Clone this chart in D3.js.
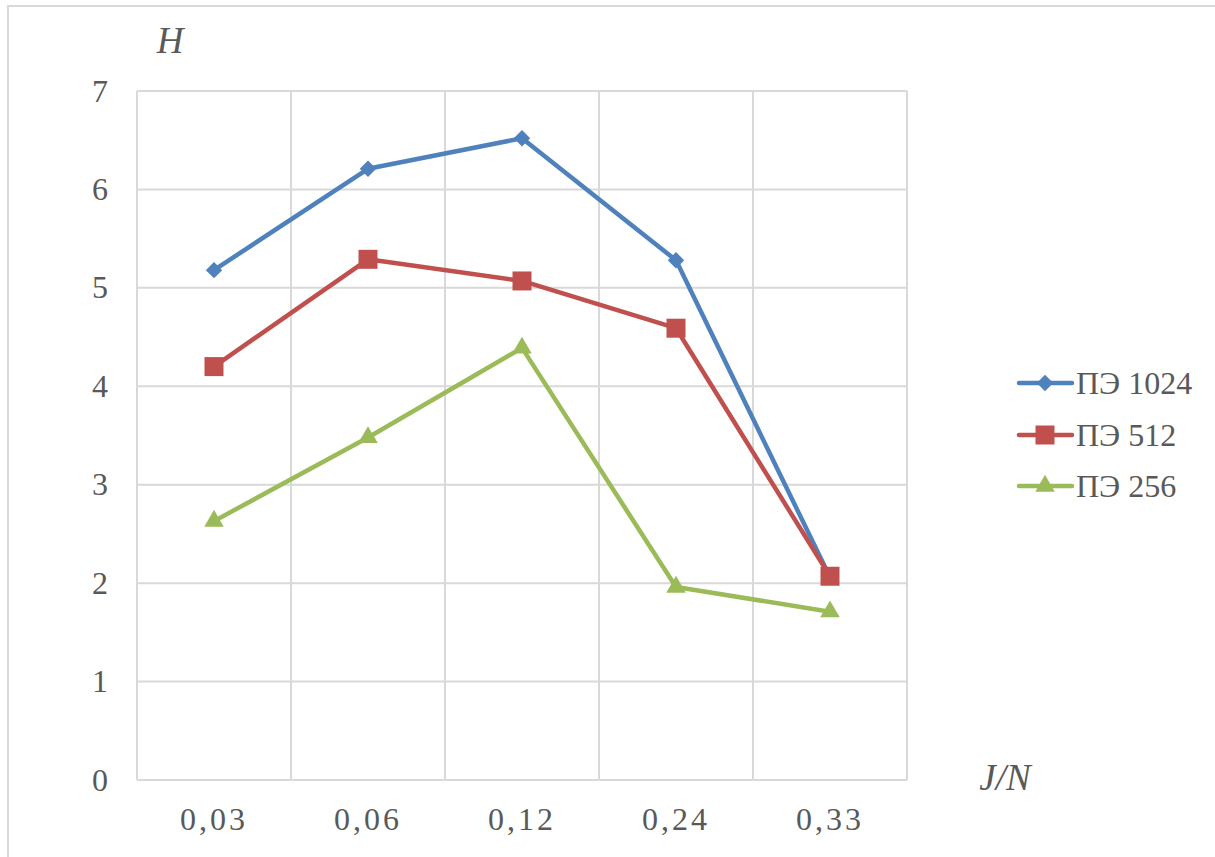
<!DOCTYPE html>
<html><head><meta charset="utf-8">
<script src="https://cdn.jsdelivr.net/npm/d3@7"></script>
<style>body{margin:0;background:#fff;}svg{display:block;}</style>
</head><body>
<svg id="c" width="1215" height="857"></svg>
<script>
const categories = ["0,03","0,06","0,12","0,24","0,33"];
const seriesNames = ["ПЭ 1024","ПЭ 512","ПЭ 256"];
const pe1024 = [5.18, 6.21, 6.52, 5.28, 2.06];
const pe512 = [4.20, 5.29, 5.07, 4.59, 2.07];
const pe256 = [2.63, 3.48, 4.39, 1.96, 1.71];
const yTicks = [0,1,2,3,4,5,6,7];
const colors = ["#4F81BD","#C0504D","#9BBB59"];
const seriesData = [pe1024, pe512, pe256];

const markers = [
  g => g.append("path").attr("d", d3.symbol().type(d3.symbolSquare).size(135)).attr("transform","rotate(45)"),
  g => g.append("path").attr("d", d3.symbol().type(d3.symbolSquare).size(361)),
  g => g.append("path").attr("d", d3.symbol().type(d3.symbolTriangle).size(165))
];

const svg = d3.select("#c");
const textCol = "#595959";
const FONT = '"Liberation Serif","Times New Roman",serif';

svg.append("rect").attr("x",8).attr("y",6).attr("width",1230).attr("height",880)
  .attr("fill","none").attr("stroke","#d9d9d9").attr("stroke-width",2);

const L=137,R=907,T=91,B=780;
const x = d3.scaleBand().domain(categories).range([L,R]).padding(0);
const y = d3.scaleLinear().domain([0,7]).range([B,T]);

svg.append("g").selectAll("line").data(yTicks).join("line")
  .attr("x1",L).attr("x2",R).attr("y1",d=>y(d)).attr("y2",d=>y(d))
  .attr("stroke","#d9d9d9").attr("stroke-width",2);
const edges = categories.map(c=>x(c)).concat([R]);
svg.append("g").selectAll("line").data(edges).join("line")
  .attr("x1",d=>d).attr("x2",d=>d).attr("y1",T).attr("y2",B)
  .attr("stroke","#d9d9d9").attr("stroke-width",2);

svg.append("g").selectAll("text").data(yTicks).join("text")
  .attr("x",108).attr("y",d=>y(d)).attr("dy","0.33em").attr("text-anchor","end")
  .style("font-family",FONT).attr("font-size",32).attr("fill",textCol).text(d=>d);
svg.append("g").selectAll("text").data(categories).join("text")
  .attr("x",d=>x(d)+x.bandwidth()/2).attr("y",830).attr("text-anchor","middle")
  .style("font-family",FONT).attr("font-size",32).attr("letter-spacing",3).attr("fill",textCol).text(d=>d);

svg.append("text").attr("x",170).attr("y",53).attr("text-anchor","middle")
  .style("font-family",FONT).attr("font-style","italic").attr("font-size",37).attr("fill",textCol).text("H");
svg.append("text").attr("x",1005).attr("y",790).attr("text-anchor","middle")
  .style("font-family",FONT).attr("font-style","italic").attr("font-size",37).attr("fill",textCol).text("J/N");

const line = d3.line().x((d,i)=>x(categories[i])+x.bandwidth()/2).y(d=>y(d));

seriesData.forEach((vals,s)=>{
  const g = svg.append("g");
  g.append("path").datum(vals).attr("d",line).attr("fill","none")
    .attr("stroke",colors[s]).attr("stroke-width",4.5).attr("stroke-linejoin","round");
  vals.forEach((d,i)=>{
    const m = g.append("g").attr("fill",colors[s])
      .attr("transform",`translate(${x(categories[i])+x.bandwidth()/2},${y(d)})`);
    markers[s](m);
  });
});

const legY = [383,435,486];
seriesNames.forEach((n,s)=>{
  const g = svg.append("g").attr("transform",`translate(0,${legY[s]})`);
  g.append("line").attr("x1",1019).attr("x2",1072).attr("y1",0).attr("y2",0)
    .attr("stroke",colors[s]).attr("stroke-width",4.5).attr("stroke-linecap","round");
  const m = g.append("g").attr("fill",colors[s]).attr("transform","translate(1045,0)");
  markers[s](m);
  g.append("text").attr("x",1076).attr("y",0).attr("dy","0.33em")
    .style("font-family",FONT).attr("font-size",32).attr("fill",textCol).text(n);
});
</script>
</body></html>
